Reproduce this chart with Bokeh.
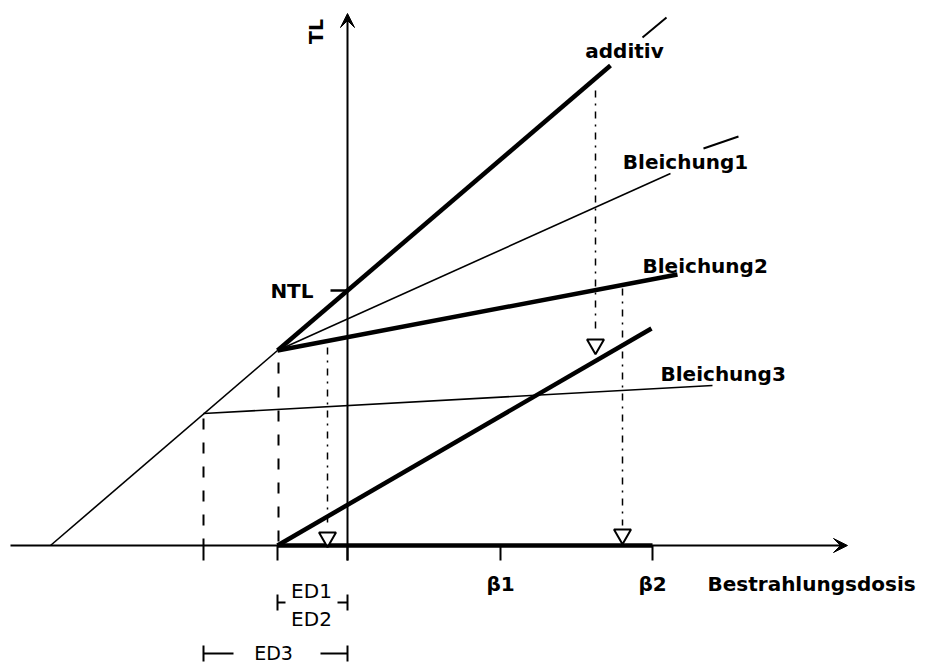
from bokeh.plotting import figure
from bokeh.models import Range1d, Arrow, VeeHead
from bokeh.core.properties import value
from bokeh.embed import file_html
from bokeh.resources import INLINE

# Schematic TL growth curves: dose (x) vs. thermoluminescence (y), arbitrary units
# Dose axis ticks
tick_dose = [-1.44, -0.70, 0.0, 1.53, 3.05]
beta_dose = [1.53, 3.05]
beta_labels = ["\u03b21", "\u03b22"]

# Natural-signal growth curve below the natural dose (thin) and additive part (thick)
growth_dose = [-2.97, -0.70]
growth_tl = [0.0, 1.95]
additiv_dose = [-0.70, 2.63]
additiv_tl = [1.95, 4.80]
ntl_value = 2.55

# Bleaching curves
bleich1_dose = [-0.70, 3.23]
bleich1_tl = [1.95, 3.72]
bleich2_dose = [-0.70, 3.30]
bleich2_tl = [1.95, 2.71]
bleich3_dose = [-1.44, 3.65]
bleich3_tl = [1.32, 1.60]

# Regenerated growth curve and its dose range on the axis
regen_dose = [-0.70, 3.04]
regen_tl = [0.0, 2.17]
regen_base_dose = [-0.70, 3.05]

# Equivalent-dose construction: vertical projections (dash-dot) ending in markers
proj_dose = [-0.20, 2.48, 2.75]
proj_top = [1.98, 4.55, 2.57]
proj_bottom = [0.17, 2.11, 0.20]
marker_tl = [0.08, 2.01, 0.11]

# Dashed drop lines from the bleaching start points
drop_dose = [-1.44, -0.69]
drop_top = [1.27, 1.83]

p = figure(width=930, height=664, x_range=Range1d(-3.47, 5.83), y_range=Range1d(-1.19, 5.45),
           x_axis_type=None, y_axis_type=None, output_backend="svg",
           toolbar_location=None, min_border=0)
p.outline_line_color = None
p.background_fill_color = "white"

black = "black"

# Axes with arrowheads
p.add_layout(Arrow(end=VeeHead(size=14, fill_color=black, line_color=black), x_start=-3.37, y_start=0.0,
                   x_end=5.0, y_end=0.0, line_width=2, line_color=black))
p.add_layout(Arrow(end=VeeHead(size=14, fill_color=black, line_color=black), x_start=0.0, y_start=-0.15,
                   x_end=0.0, y_end=5.32, line_width=2, line_color=black))

# Tick marks below the dose axis
p.segment(x0=tick_dose, y0=[0.0] * len(tick_dose), x1=tick_dose, y1=[-0.15] * len(tick_dose),
          line_color=black, line_width=2)

# Thin curves
p.line(growth_dose, growth_tl, line_color=black, line_width=1.6)
p.line(bleich1_dose, bleich1_tl, line_color=black, line_width=1.6)
p.line(bleich3_dose, bleich3_tl, line_color=black, line_width=1.6)

# Thick curves
p.line(additiv_dose, additiv_tl, line_color=black, line_width=4.5)
p.line(bleich2_dose, bleich2_tl, line_color=black, line_width=4.5)
p.line(regen_dose, regen_tl, line_color=black, line_width=4.5)
p.line(regen_base_dose, [0.0, 0.0], line_color=black, line_width=4.5)

# NTL marker on the TL axis
p.segment(x0=[-0.17], y0=[ntl_value], x1=[0.0], y1=[ntl_value], line_color=black, line_width=2.5)

# Dashed drop lines
p.segment(x0=drop_dose, y0=drop_top, x1=drop_dose, y1=[0.0, 0.0],
          line_color=black, line_width=2, line_dash="11 13")

# Dash-dot projections and open markers
p.segment(x0=proj_dose, y0=proj_top, x1=proj_dose, y1=proj_bottom,
          line_color=black, line_width=1.5, line_dash="7 6 2 6")
p.scatter(proj_dose, marker_tl, marker="inverted_triangle", size=17,
          fill_color="white", line_color=black, line_width=2)

# Leader strokes beyond curve ends
p.line([2.95, 3.19], [5.08, 5.28], line_color=black, line_width=2)
p.line([3.56, 3.91], [3.97, 4.09], line_color=black, line_width=2)

font = value("DejaVu Sans")

# Curve labels
p.text(x=[2.77, 3.38], y=[4.95, 3.84], text=["additiv", "Bleichung1"],
       text_font=font, text_font_size="20px", text_font_style="bold",
       text_align="center", text_baseline="middle", text_color=black)
p.text(x=[2.95, 3.13], y=[2.80, 1.72], text=["Bleichung2", "Bleichung3"],
       text_font=font, text_font_size="20px", text_font_style="bold",
       text_align="left", text_baseline="middle", text_color=black)
p.text(x=[-0.34], y=[ntl_value], text=["NTL"],
       text_font=font, text_font_size="20px", text_font_style="bold",
       text_align="right", text_baseline="middle", text_color=black)

# Axis labels
p.text(x=[3.60], y=[-0.38], text=["Bestrahlungsdosis"],
       text_font=font, text_font_size="20px", text_font_style="bold",
       text_align="left", text_baseline="middle", text_color=black)
p.text(x=beta_dose, y=[-0.38, -0.38], text=beta_labels,
       text_font=font, text_font_size="20px", text_font_style="bold",
       text_align="center", text_baseline="middle", text_color=black)
p.text(x=[-0.32], y=[5.14], text=["TL"], angle=1.5708,
       text_font=font, text_font_size="19px", text_font_style="bold",
       text_align="center", text_baseline="middle", text_color=black)

# Equivalent-dose brackets
p.segment(x0=[-0.70, 0.0], y0=[-0.49, -0.49], x1=[-0.70, 0.0], y1=[-0.65, -0.65],
          line_color=black, line_width=2)
p.segment(x0=[-0.70, -0.10], y0=[-0.57, -0.57], x1=[-0.62, 0.0], y1=[-0.57, -0.57],
          line_color=black, line_width=2)
p.text(x=[-0.36, -0.36], y=[-0.45, -0.73], text=["ED1", "ED2"],
       text_font=font, text_font_size="20px",
       text_align="center", text_baseline="middle", text_color=black)

p.segment(x0=[-1.44, 0.0], y0=[-1.00, -1.00], x1=[-1.44, 0.0], y1=[-1.16, -1.16],
          line_color=black, line_width=2)
p.segment(x0=[-1.44, -0.27], y0=[-1.08, -1.08], x1=[-1.14, 0.0], y1=[-1.08, -1.08],
          line_color=black, line_width=2)
p.text(x=[-0.74], y=[-1.075], text=["ED3"],
       text_font=font, text_font_size="19px",
       text_align="center", text_baseline="middle", text_color=black)

open("out.html", "w").write(file_html(p, INLINE))
